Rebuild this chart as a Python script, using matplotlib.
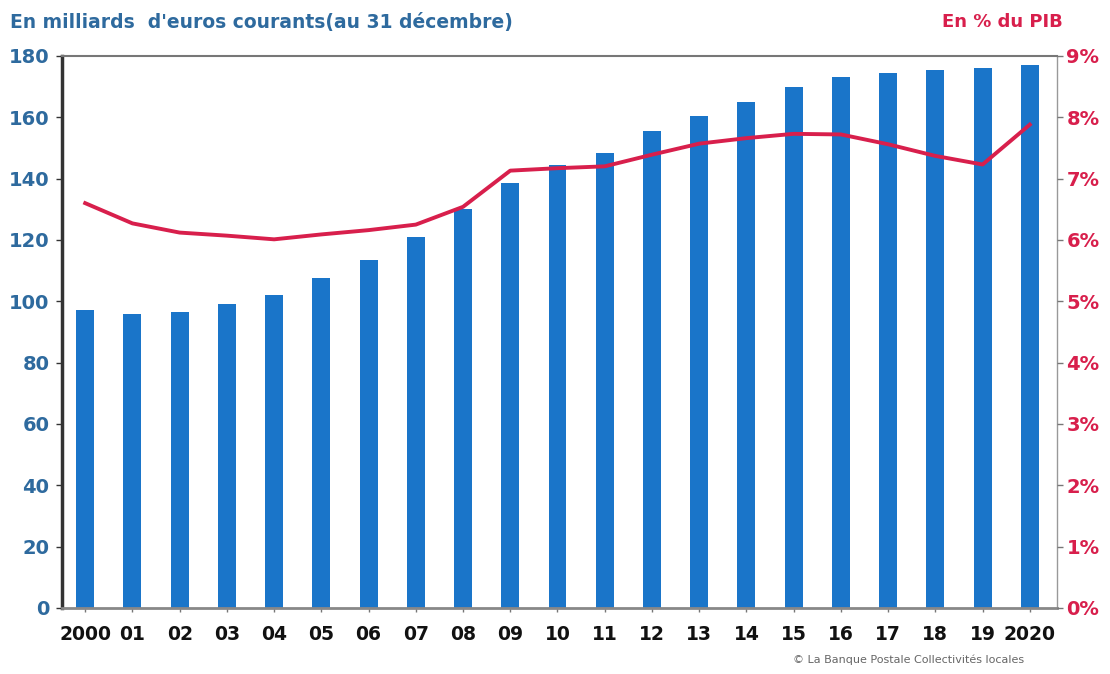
import numpy as np
import matplotlib
matplotlib.use("Agg")
import matplotlib.pyplot as plt
from matplotlib.ticker import FuncFormatter

plt.rcParams['font.family'] = ['DejaVu Sans']

# données
years = ['2000', '01', '02', '03', '04', '05', '06', '07', '08', '09', '10',
         '11', '12', '13', '14', '15', '16', '17', '18', '19', '2020']
encours = [97, 96, 96.5, 99, 102, 107.5, 113.5, 121, 130, 138.5, 144.5,
           148.5, 155.5, 160.5, 165, 170, 173, 174.5, 175.5, 176, 177]
pct_pib = [6.6, 6.27, 6.12, 6.07, 6.01, 6.09, 6.16, 6.25, 6.54, 7.13, 7.17,
           7.2, 7.39, 7.57, 7.66, 7.73, 7.72, 7.56, 7.37, 7.23, 7.88]

blue = '#1a75c9'
red = '#d81f4c'
lblue = '#2e6a9e'

fig = plt.figure(figsize=(11.1, 6.74), dpi=100)
ax = fig.add_axes([0.0559, 0.098, 0.8961, 0.819])
x = np.arange(len(years))
ax.bar(x, encours, width=0.38, color=blue, zorder=2)
ax.set_xlim(-0.49, 20.57)
ax.set_ylim(0, 180)
ax.set_yticks(range(0, 181, 20))
ax.set_xticks(x)
ax.set_xticklabels(years)

for lab in ax.get_yticklabels():
    lab.set_color(lblue)
    lab.set_fontweight('bold')
    lab.set_fontsize(14)
for lab in ax.get_xticklabels():
    lab.set_color('#111111')
    lab.set_fontweight('bold')
    lab.set_fontsize(13.5)
ax.tick_params(axis='y', length=4, width=1, color='#333333', pad=5)
ax.tick_params(axis='x', length=3, width=1, color='#777777', pad=9)

ax.spines['left'].set_linewidth(2.5)
ax.spines['left'].set_color('#333333')
ax.spines['bottom'].set_linewidth(2)
ax.spines['bottom'].set_color('#888888')
ax.spines['top'].set_linewidth(1.5)
ax.spines['top'].set_color('#777777')
ax.spines['right'].set_linewidth(1)
ax.spines['right'].set_color('#999999')

ax2 = ax.twinx()
ax2.plot(x, pct_pib, color=red, linewidth=2.8, zorder=3)
ax2.set_ylim(0, 9)
ax2.set_yticks(range(0, 10))
ax2.yaxis.set_major_formatter(FuncFormatter(lambda v, p: '%d%%' % v))
for lab in ax2.get_yticklabels():
    lab.set_color(red)
    lab.set_fontweight('bold')
    lab.set_fontsize(14)
ax2.tick_params(axis='y', length=4, width=1, color='#777777', pad=3)
for s in ax2.spines.values():
    s.set_visible(False)

fig.text(0.009, 0.967, "En milliards  d'euros courants(au 31 décembre)", color=lblue,
         fontsize=13.5, fontweight='bold', va='center', ha='left')
fig.text(0.957, 0.967, "En % du PIB", color=red, fontsize=13, fontweight='bold',
         va='center', ha='right')
fig.text(0.923, 0.013, "© La Banque Postale Collectivités locales", color='#666666',
         fontsize=8, va='bottom', ha='right')

fig.savefig('out.png', dpi=100)
